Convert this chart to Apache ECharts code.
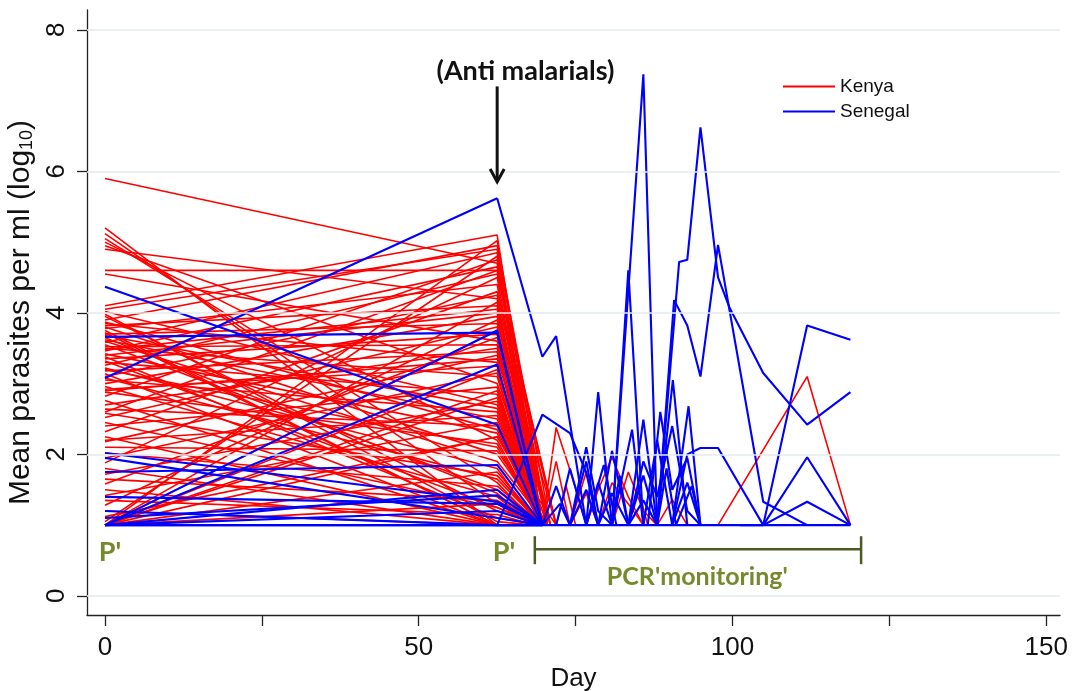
<!DOCTYPE html>
<html><head><meta charset="utf-8">
<script src="https://cdn.jsdelivr.net/npm/echarts@6/dist/echarts.min.js"></script>
<style>html,body{margin:0;padding:0;background:#fff}#chart{width:1084px;height:691px}</style>
</head><body><div id="chart"></div>
<script>
// ---------- data ----------
const xTickValues = [0, 25, 50, 75, 100, 125, 150];
const xLabelValues = [0, 50, 100, 150];
const yLabelValues = [0, 2, 4, 6, 8];
const gridValues = [0, 2, 4, 6, 8];
const dayEnrol = 0;
const dayTreat = 62.5;

// Kenya: log10 parasites at enrolment (day 0) and at treatment (day ~63)
const kenyaD0 = [
  5.90, 5.20, 5.12, 5.05, 5.00, 4.95, 4.90, 4.60, 4.55, 4.10,
  4.05, 4.02, 3.98, 3.95, 3.90, 3.87, 3.85, 3.82, 3.80, 3.78,
  3.75, 3.72, 3.70, 3.68, 3.65, 3.62, 3.60, 3.58, 3.55, 3.52,
  3.50, 3.48, 3.46, 3.42, 3.40, 3.38, 3.35, 3.32, 3.30, 3.26,
  3.22, 3.20, 3.18, 3.14, 3.10, 3.08, 3.05, 3.00, 2.96, 2.92,
  2.90, 2.88, 2.82, 2.76, 2.70, 2.64, 2.60, 2.58, 2.52, 2.45,
  2.40, 2.32, 2.25, 2.20, 2.18, 2.10, 2.02, 1.95, 1.88, 1.80,
  1.72, 1.65, 1.58, 1.50, 1.42, 1.35, 1.28, 1.20, 1.12, 1.05,
  1.00, 1.00, 1.00, 1.00, 1.00, 1.00, 1.00, 1.00, 1.00, 1.00
];
const kenyaD63 = [
  4.70, 1.00, 1.30, 1.60, 2.20, 3.00, 4.20, 4.60, 3.60, 5.10,
  4.90, 2.70, 1.05, 1.20, 4.95, 2.35, 3.30, 4.10, 2.00, 4.40,
  1.00, 1.00, 3.85, 2.65, 1.45, 2.50, 1.90, 4.85, 1.50, 3.55,
  3.10, 4.05, 4.65, 2.30, 4.00, 1.10, 3.70, 1.25, 2.85, 4.55,
  1.80, 2.10, 3.45, 1.00, 4.25, 1.65, 2.60, 3.95, 1.40, 3.25,
  3.35, 2.15, 4.75, 1.00, 3.50, 2.40, 4.60, 1.70, 3.80, 1.25,
  2.95, 4.30, 1.00, 2.55, 3.40, 2.05, 1.55, 3.15, 4.50, 1.00,
  2.75, 1.35, 3.65, 1.00, 2.45, 1.15, 3.90, 1.00, 2.25, 4.80,
  4.15, 3.75, 2.90, 2.25, 1.75, 1.30, 5.02, 3.20, 1.00, 2.80
];
// day at which each Kenya subject is back at the detection floor after treatment
const kenyaClear = [
  69.7, 69.7, 68.5, 69.0, 69.7, 70.5, 69.7, 71.9, 69.7, 69.7,
  70.5, 69.7, 68.5, 69.7, 71.0, 69.7, 69.0, 69.7, 70.5, 69.7,
  69.7, 69.7, 71.9, 69.7, 68.5, 69.7, 70.5, 69.7, 69.0, 69.7,
  69.7, 71.0, 69.7, 69.7, 70.5, 69.7, 69.7, 68.5, 69.7, 71.9,
  69.0, 69.7, 69.7, 69.7, 70.5, 69.7, 69.7, 69.7, 68.5, 69.7,
  71.0, 69.7, 69.7, 69.7, 69.0, 69.7, 70.5, 69.7, 69.7, 69.7,
  69.7, 71.9, 69.7, 69.7, 69.7, 70.5, 69.7, 69.0, 69.7, 69.7,
  69.7, 69.7, 71.0, 69.7, 69.7, 68.5, 69.7, 69.7, 70.5, 69.7,
  69.7, 69.0, 69.7, 71.9, 69.7, 69.7, 70.5, 69.7, 69.7, 69.7
];
// Kenya PCR monitoring follow-up paths [day, log10]
const kenyaFollowUp = [
  [[69.7, 1.00], [71.9, 2.38], [74.1, 1.78], [76.7, 1.00]],
  [[69.7, 1.00], [71.9, 1.90], [74.1, 1.00], [76.7, 1.75], [78.6, 1.00]],
  [[76.7, 1.00], [78.6, 1.50], [80.8, 1.96], [83.4, 1.40], [85.8, 1.00]],
  [[78.6, 1.00], [80.8, 1.60], [83.4, 1.30], [85.8, 1.00]],
  [[88.0, 1.00], [90.4, 1.36], [92.8, 1.00]],
  [[74.1, 1.00], [76.7, 1.45], [78.6, 1.00]],
  [[80.8, 1.00], [83.4, 1.75], [85.8, 1.20], [88.0, 1.00]],
  [[71.9, 1.00], [73.5, 1.55], [75.0, 1.00]],
  [[83.4, 1.00], [85.0, 1.50], [86.5, 1.00]],
  [[97.7, 1.00], [111.9, 3.10], [118.8, 1.00]]
];

// Senegal
const senegalD0 = [3.08, 3.66, 4.37, 1.00, 1.00, 2.02, 1.75, 1.40, 1.00, 1.00, 1.20, 1.00, 1.95, 1.10];
const senegalD63 = [5.62, 3.72, 2.42, 3.75, 3.27, 1.33, 1.85, 1.30, 1.50, 1.20, 1.00, 1.00, 1.10, 1.42];
const senegalClear = [null, 69.7, 69.7, 69.7, 69.7, 69.7, 69.7, 69.7, 69.7, 69.7, 69.7, 69.7, 69.7, 69.7];
const senegalFollowUp = [
  [[62.5, 5.62], [69.7, 3.38], [71.9, 3.67], [76.7, 1.00]],
  [[62.5, 1.00], [69.7, 2.56], [74.1, 2.30], [76.7, 1.74], [78.6, 1.00]],
  [[80.8, 1.00], [85.8, 7.37], [88.0, 1.00]],
  [[80.8, 1.00], [83.4, 4.60], [85.8, 1.00]],
  [[88.0, 1.00], [91.5, 4.72], [92.8, 4.75], [94.9, 6.62], [97.7, 4.50], [99.5, 4.08], [104.9, 3.15], [111.9, 2.42], [118.8, 2.88]],
  [[88.0, 1.00], [90.7, 4.18], [92.8, 3.82], [94.9, 3.10], [97.7, 4.96], [104.9, 1.33], [111.9, 1.00]],
  [[101.2, 1.00], [104.9, 1.00], [111.9, 3.82], [118.8, 3.62]],
  [[90.4, 1.00], [92.8, 2.00], [94.9, 2.09], [97.7, 2.09], [104.9, 1.00]],
  [[104.9, 1.00], [111.9, 1.96], [118.8, 1.00]],
  [[104.9, 1.00], [111.9, 1.33], [118.8, 1.00]],
  [[76.7, 1.00], [78.6, 2.88], [80.8, 1.00]],
  [[80.8, 1.00], [84.0, 2.35], [85.8, 1.00]],
  [[83.4, 1.00], [85.8, 2.49], [88.0, 1.00]],
  [[88.0, 1.00], [90.5, 3.05], [92.8, 1.00]],
  [[90.4, 1.00], [93.0, 2.68], [94.9, 1.00]],
  [[69.7, 1.00], [71.9, 1.55], [74.1, 1.00], [76.7, 1.90], [78.6, 1.00]],
  [[71.9, 1.00], [74.1, 1.80], [76.7, 1.00], [78.6, 1.60], [80.8, 1.00]],
  [[78.6, 1.00], [80.8, 2.05], [83.4, 1.00], [85.8, 1.70], [88.0, 1.00]],
  [[83.4, 1.00], [85.8, 1.90], [88.0, 1.40], [90.4, 2.40], [92.8, 1.20], [94.9, 1.00]],
  [[85.8, 1.00], [88.0, 2.20], [90.4, 1.00], [92.8, 1.60], [94.9, 1.00]],
  [[74.1, 1.00], [76.7, 1.50], [78.6, 1.00], [80.8, 1.45], [83.4, 1.00]],
  [[69.7, 1.00], [72.5, 1.30], [74.1, 1.00]],
  [[74.1, 1.00], [76.7, 2.10], [78.6, 1.20], [80.8, 1.00]],
  [[80.8, 1.00], [82.0, 1.70], [83.4, 1.00], [85.8, 1.35], [88.0, 1.00]],
  [[86.5, 1.00], [88.5, 2.60], [90.4, 1.50], [92.8, 1.95], [94.9, 1.00]],
  [[88.0, 1.00], [89.5, 1.80], [91.0, 1.00], [93.5, 1.55], [94.9, 1.00]],
  [[76.7, 1.00], [79.5, 1.85], [81.5, 1.00]],
  [[0, 1.00], [62.5, 1.00], [118.8, 1.00]]
];

// ---------- build ----------
const RED = '#ff0000', BLUE = '#0000ff';
const FONT = 'Arial, "Liberation Sans", sans-serif';
const series = [];

series.push({
  type: 'line', name: 'grid', data: [], z: 0, silent: true,
  markLine: {
    silent: true, symbol: ['none', 'none'], label: { show: false }, animation: false,
    lineStyle: { color: '#e2ebed', width: 1.6, type: 'solid' },
    data: gridValues.map(v => ({ yAxis: v }))
  }
});

function addLine(name, color, width, z, pts) {
  series.push({
    type: 'line', name: name, data: pts, symbol: 'none', showSymbol: false,
    color: color, lineStyle: { color: color, width: width }, z: z,
    silent: true, animation: false
  });
}

kenyaD0.forEach((v0, i) => {
  const pts = [[dayEnrol, v0], [dayTreat, kenyaD63[i]]];
  if (kenyaClear[i] != null) pts.push([kenyaClear[i], 1.0]);
  addLine('Kenya', RED, 1.6, 2, pts);
});
kenyaFollowUp.forEach(p => addLine('Kenya', RED, 1.6, 2, p));

senegalD0.forEach((v0, i) => {
  const pts = [[dayEnrol, v0], [dayTreat, senegalD63[i]]];
  if (senegalClear[i] != null) pts.push([senegalClear[i], 1.0]);
  addLine('Senegal', BLUE, 2.1, 3, pts);
});
senegalFollowUp.forEach(p => addLine('Senegal', BLUE, 2.1, 3, p));

const option = {
  animation: false,
  backgroundColor: '#ffffff',
  grid: { left: 87, right: 24, top: 10, bottom: 76, containLabel: false, outerBoundsMode: 'none' },
  legend: {
    data: ['Kenya', 'Senegal'], orient: 'vertical', left: 778, top: 72,
    icon: 'rect', itemWidth: 52, itemHeight: 2, itemGap: 6,
    textStyle: { fontSize: 19, color: '#111', fontFamily: FONT },
    selectedMode: false
  },
  xAxis: {
    type: 'value', min: -2.87, max: 152.2,
    name: 'Day', nameLocation: 'middle', nameGap: 47,
    nameTextStyle: { fontSize: 26, color: '#111', fontFamily: FONT },
    axisLine: { show: true, onZero: false, lineStyle: { color: '#222', width: 1.3 } },
    axisTick: { show: true, length: 11, customValues: xTickValues, lineStyle: { color: '#222', width: 1.3 } },
    axisLabel: { customValues: xLabelValues, fontSize: 26, color: '#111', margin: 20, fontFamily: FONT },
    splitLine: { show: false }
  },
  yAxis: {
    type: 'value', min: -0.27, max: 8.28,
    name: '{a|Mean parasites per ml (log}{s|10}{a|)}',
    nameLocation: 'middle', nameGap: 40,
    nameTextStyle: {
      rich: {
        a: { fontSize: 30, color: '#111', fontFamily: FONT },
        s: { fontSize: 18, color: '#111', fontFamily: FONT, verticalAlign: 'bottom', padding: [13, 0, 0, 0] }
      }
    },
    axisLine: { show: true, onZero: false, lineStyle: { color: '#222', width: 1.3 } },
    axisTick: { show: true, length: 10, customValues: yLabelValues, lineStyle: { color: '#222', width: 1.3 } },
    axisLabel: { customValues: yLabelValues, rotate: 90, fontSize: 26, color: '#111', margin: 17, fontFamily: FONT },
    splitLine: { show: false }
  },
  series: series
};

const chart = echarts.init(document.getElementById('chart'), null, { renderer: 'canvas' });
chart.setOption(option);

const px = (x, y) => chart.convertToPixel({ gridIndex: 0 }, [x, y]);
const OLIVE = '#76892c', OLIVE_DARK = '#4b5b22';
const ANN = 'Lato, "Open Sans", sans-serif';
const tAnti = px(67, 7.42);
const aTop = px(dayTreat, 7.2), aTip = px(dayTreat, 5.85);
const p1 = px(0.8, 0.62), p2 = px(63.6, 0.62);
const bL = px(68.5, 0.66), bR = px(120.5, 0.66);
const tPcr = px(94.4, 0.27);

chart.setOption({
  graphic: [
    { type: 'text', x: tAnti[0], y: tAnti[1], z: 20,
      style: { text: '(Anti malarials)', fontSize: 27, fontWeight: 'bold', fontFamily: ANN, fill: '#111', align: 'center', verticalAlign: 'middle' } },
    { type: 'line', z: 20, shape: { x1: aTop[0], y1: aTop[1], x2: aTip[0], y2: aTip[1] - 2 }, style: { stroke: '#111', lineWidth: 3 } },
    { type: 'polyline', z: 20, shape: { points: [[aTip[0] - 7, aTip[1] - 13], [aTip[0], aTip[1]], [aTip[0] + 7, aTip[1] - 13]] }, style: { stroke: '#111', lineWidth: 3, fill: null } },
    { type: 'text', x: p1[0], y: p1[1], z: 20,
      style: { text: "P'", fontSize: 27, fontWeight: 'bold', fontFamily: ANN, fill: OLIVE, align: 'center', verticalAlign: 'middle' } },
    { type: 'text', x: p2[0], y: p2[1], z: 20,
      style: { text: "P'", fontSize: 27, fontWeight: 'bold', fontFamily: ANN, fill: OLIVE, align: 'center', verticalAlign: 'middle' } },
    { type: 'line', z: 20, shape: { x1: bL[0], y1: bL[1], x2: bR[0], y2: bR[1] }, style: { stroke: OLIVE_DARK, lineWidth: 2.5 } },
    { type: 'line', z: 20, shape: { x1: bL[0], y1: bL[1] - 13, x2: bL[0], y2: bL[1] + 15 }, style: { stroke: OLIVE_DARK, lineWidth: 2.5 } },
    { type: 'line', z: 20, shape: { x1: bR[0], y1: bR[1] - 13, x2: bR[0], y2: bR[1] + 15 }, style: { stroke: OLIVE_DARK, lineWidth: 2.5 } },
    { type: 'text', x: tPcr[0], y: tPcr[1], z: 20,
      style: { text: "PCR'monitoring'", fontSize: 25, fontWeight: 'bold', fontFamily: ANN, fill: OLIVE, align: 'center', verticalAlign: 'middle' } }
  ]
});
</script>
</body></html>
